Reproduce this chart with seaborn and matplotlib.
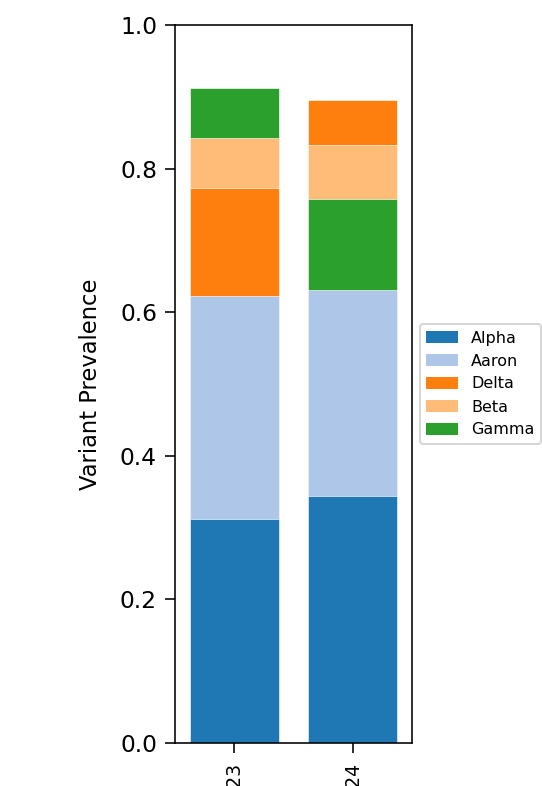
import matplotlib
matplotlib.use("Agg")
import matplotlib.pyplot as plt
from matplotlib.patches import Patch
import seaborn as sns
import numpy as np
import pandas as pd

periods = ["2023", "2024"]
variants = ["Alpha", "Aaron", "Delta", "Beta", "Gamma"]
share_2023 = [0.312, 0.311, 0.150, 0.070, 0.069]
share_2024 = [0.344, 0.287, 0.062, 0.075, 0.127]
colors = ["#1f77b4", "#aec7e8", "#ff7f0e", "#ffbb78", "#2ca02c"]

shares = {"2023": share_2023, "2024": share_2024}
color_of = dict(zip(variants, colors))

fig = plt.figure(figsize=(542 / 144, 786 / 144), dpi=144)
ax = fig.add_axes([175 / 542, 1 - 743 / 786, 237 / 542, 718 / 786])

# each bar is stacked largest share first; draw cumulative tops from the top layer down
layers = []
for p in periods:
    vals = np.array(shares[p])
    order = np.argsort(-vals, kind="stable")
    tops = np.cumsum(vals[order])
    layers.append([(variants[i], t) for i, t in zip(order, tops)])

for k in range(len(variants) - 1, -1, -1):
    df = pd.DataFrame({
        "period": periods,
        "top": [layers[j][k][1] for j in range(len(periods))],
    })
    pal = {periods[j]: color_of[layers[j][k][0]] for j in range(len(periods))}
    sns.barplot(data=df, x="period", y="top", hue="period", palette=pal,
                order=periods, hue_order=periods, width=0.75, saturation=1,
                legend=False, edgecolor="white", linewidth=0.3, ax=ax)

ax.set_xlim(-0.5, 1.5)
ax.set_ylim(0, 1.0)
ax.set_xlabel("")
ax.set_ylabel("Variant Prevalence", fontsize=11.3, labelpad=9)
ax.tick_params(axis="y", labelsize=11.7, length=5, pad=4)
ax.tick_params(axis="x", labelrotation=90, labelsize=9.5, length=5, pad=4.5)

handles = [Patch(facecolor=color_of[v], label=v) for v in variants]
ax.legend(handles=handles, loc="center left", bbox_to_anchor=(1.0, 0.5), fontsize=8)

fig.savefig("out.png", dpi=144)
